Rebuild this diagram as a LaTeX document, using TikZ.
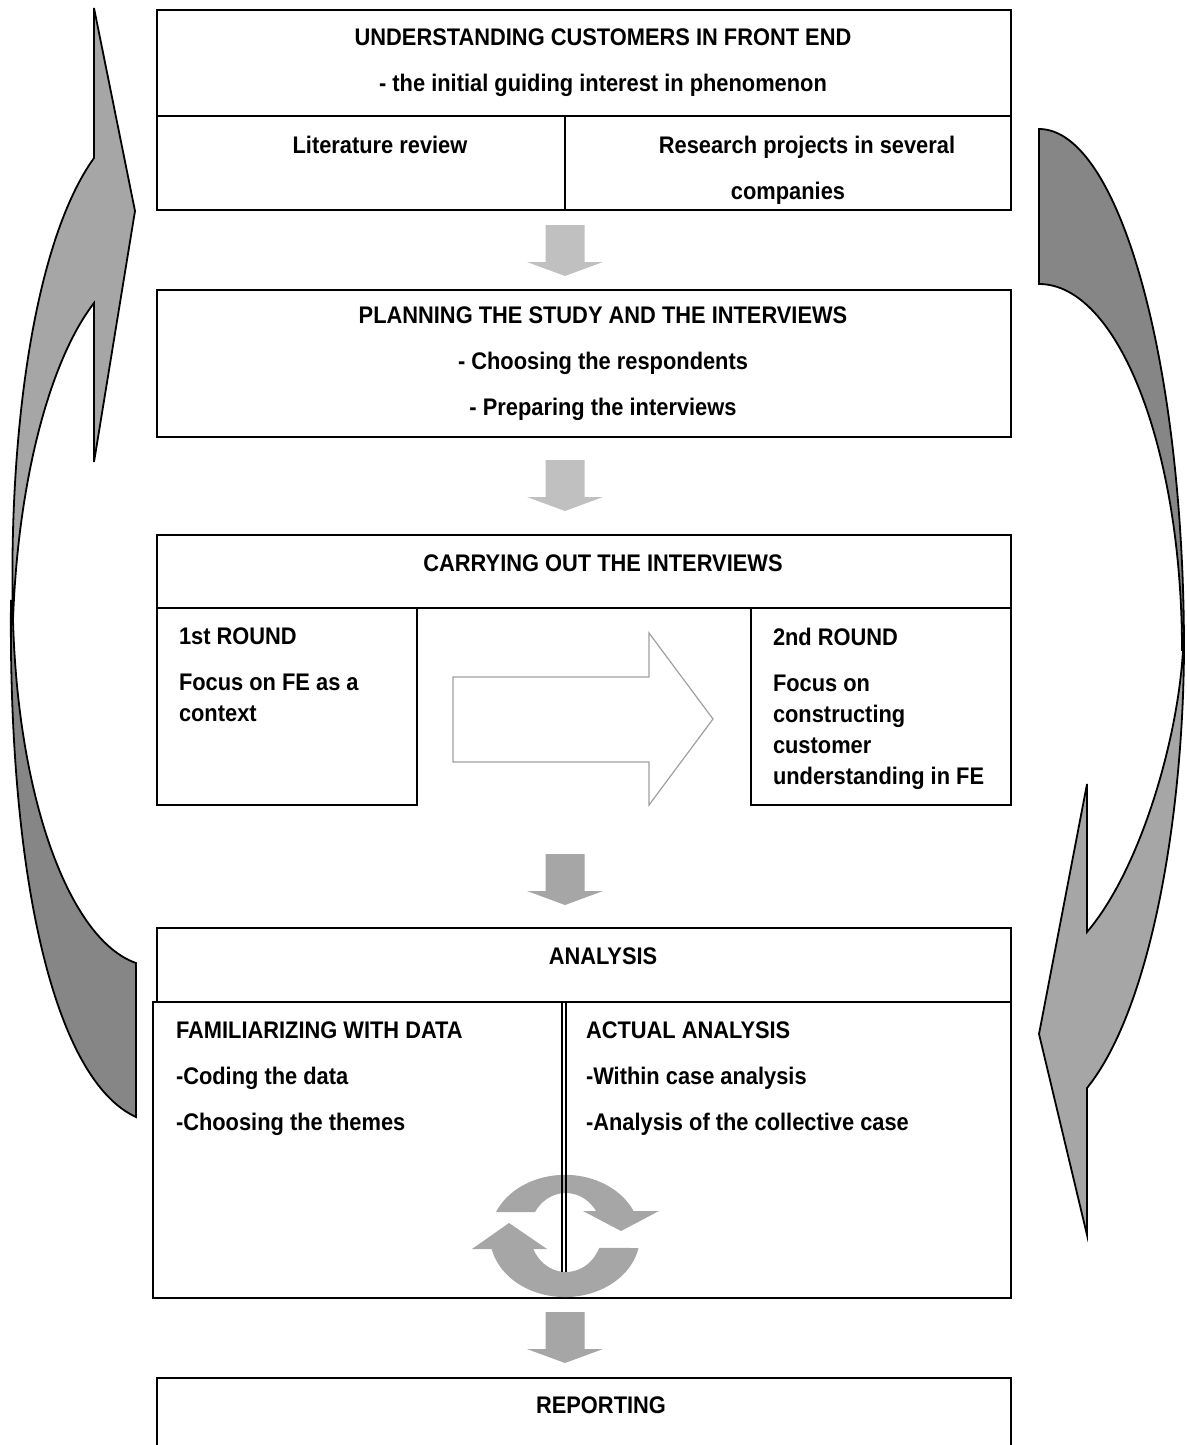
\documentclass[tikz,border=0pt]{standalone}
\usepackage{fontspec}
\setmainfont{Liberation Sans}[FakeStretch=0.91]
\usepackage{tikz}
\usetikzlibrary{positioning}
\definecolor{lightgrey}{HTML}{C0C0C0}
\definecolor{midgrey}{HTML}{A6A6A6}
\definecolor{darkgrey}{HTML}{868686}
\definecolor{rimgrey}{HTML}{A0A0A0}

\begin{document}
\begin{tikzpicture}[x=0.5pt, y=-0.5pt, line width=1pt,
    boxtext/.style={inner sep=0pt, font=\fontsize{12}{23}\selectfont\bfseries},
    midtext/.style={boxtext, align=center, anchor=north},
    lefttext/.style={boxtext, align=left, anchor=north west},
    roundtext/.style={lefttext, font=\fontsize{12}{15.5}\selectfont\bfseries},
    ribbon/.style={draw=black, line width=0.9pt},
    downarrow/.pic={\path[pic actions] (-19.5,0) -- (19.5,0) -- (19.5,37)
        -- (38,37) -- (0,51) -- (-38,37) -- (-19.5,37) -- cycle;}]
    \useasboundingbox (0,0) rectangle (1187,1445);

    % Left return arrow (back, then front)
    \filldraw[ribbon, fill=darkgrey] (13,620) .. controls (18,800) and (70,940) .. (136,963)
        -- (136,1117) .. controls (55,1080) and (8,880) .. (11,600) -- cycle;
    \filldraw[ribbon, fill=midgrey] (94,8) -- (135,211) -- (94,462) -- (94,303)
        .. controls (50,360) and (18,480) .. (13,620)
        .. controls (8,430) and (35,240) .. (94,158) -- cycle;

    % Right return arrow (back, then front)
    \filldraw[ribbon, fill=darkgrey] (1039,129) .. controls (1119,129) and (1184,362) .. (1184,650)
        -- (1182,650) .. controls (1182,448) and (1118,284) .. (1039,284) -- cycle;
    \filldraw[ribbon, fill=midgrey] (1183,650) .. controls (1178,740) and (1140,870) .. (1087,932)
        -- (1087,784) -- (1039,1034) -- (1087,1235) -- (1087,1088)
        .. controls (1150,1010) and (1183,820) .. (1184,650) -- cycle;

    % Understanding customers
    \draw (157,10) rectangle (1011,210);
    \draw (157,116) -- (1011,116);
    \draw (565,116) -- (565,210);
    \node[midtext] (front) at (603,28) {UNDERSTANDING CUSTOMERS IN FRONT END\\- the initial guiding interest in phenomenon};
    \node[midtext] (lit) at (380,135) {Literature review};
    \node[midtext] (proj) at (807,135) {Research projects in several\\\hspace*{-19pt}companies};

    \pic[fill=lightgrey] at (565,225) {downarrow};

    % Planning
    \draw (157,290) rectangle (1011,437);
    \node[midtext] (plan) at (603,306) {PLANNING THE STUDY AND THE INTERVIEWS\\- Choosing the respondents\\- Preparing the interviews};

    \pic[fill=lightgrey] at (565,460) {downarrow};

    % Interviews
    \draw (157,535) rectangle (1011,608);
    \draw (157,608) rectangle (417,805);
    \draw (751,608) rectangle (1011,805);
    \node[midtext] (carry) at (603,554) {CARRYING OUT THE INTERVIEWS};
    \node[roundtext] (first) at (178,627) {1st ROUND\\[7.5pt]Focus on FE as a\\context};
    \node[roundtext] (second) at (772,627) {2nd ROUND\\[7.5pt]Focus on\\constructing\\customer\\understanding in FE};
    \draw[rimgrey, fill=white, line width=0.6pt] (453,677) -- (649,677) -- (649,633) -- (713,719)
        -- (649,805) -- (649,762) -- (453,762) -- cycle;

    \pic[fill=midgrey] at (565,854) {downarrow};

    % Analysis
    \draw (157,928) rectangle (1011,1002);
    \draw (153,1002) rectangle (1011,1298);
    \node[midtext] (analysis) at (603,947) {ANALYSIS};
    \node[lefttext] (famil) at (175,1021) {FAMILIARIZING WITH DATA\\-Coding the data\\-Choosing the themes};
    \node[lefttext] (actual) at (585,1021) {ACTUAL ANALYSIS\\-Within case analysis\\-Analysis of the collective case};
    % cycle arrows
    \fill[midgrey] (496,1212) arc[start angle=203, end angle=336, x radius=75, y radius=61]
        -- (659,1211) -- (621,1231) -- (583,1211) -- (596,1211)
        arc[start angle=327, end angle=211, x radius=36, y radius=39.5] -- cycle;
    \fill[midgrey] (638.5,1248) arc[start angle=11.3, end angle=167.7, x radius=75, y radius=61]
        -- (472,1249) -- (509,1223) -- (547,1249) -- (533.3,1249)
        arc[start angle=155.3, end angle=23, x radius=36, y radius=39.5] -- cycle;
    \draw[line width=0.8pt] (562,1002) -- (562,1272) (566,1002) -- (566,1272);

    \pic[fill=midgrey] at (565,1312) {downarrow};

    % Reporting
    \draw (157,1445) -- (157,1378) -- (1011,1378) -- (1011,1445);
    \node[midtext] (report) at (601,1396) {REPORTING};
\end{tikzpicture}
\end{document}
